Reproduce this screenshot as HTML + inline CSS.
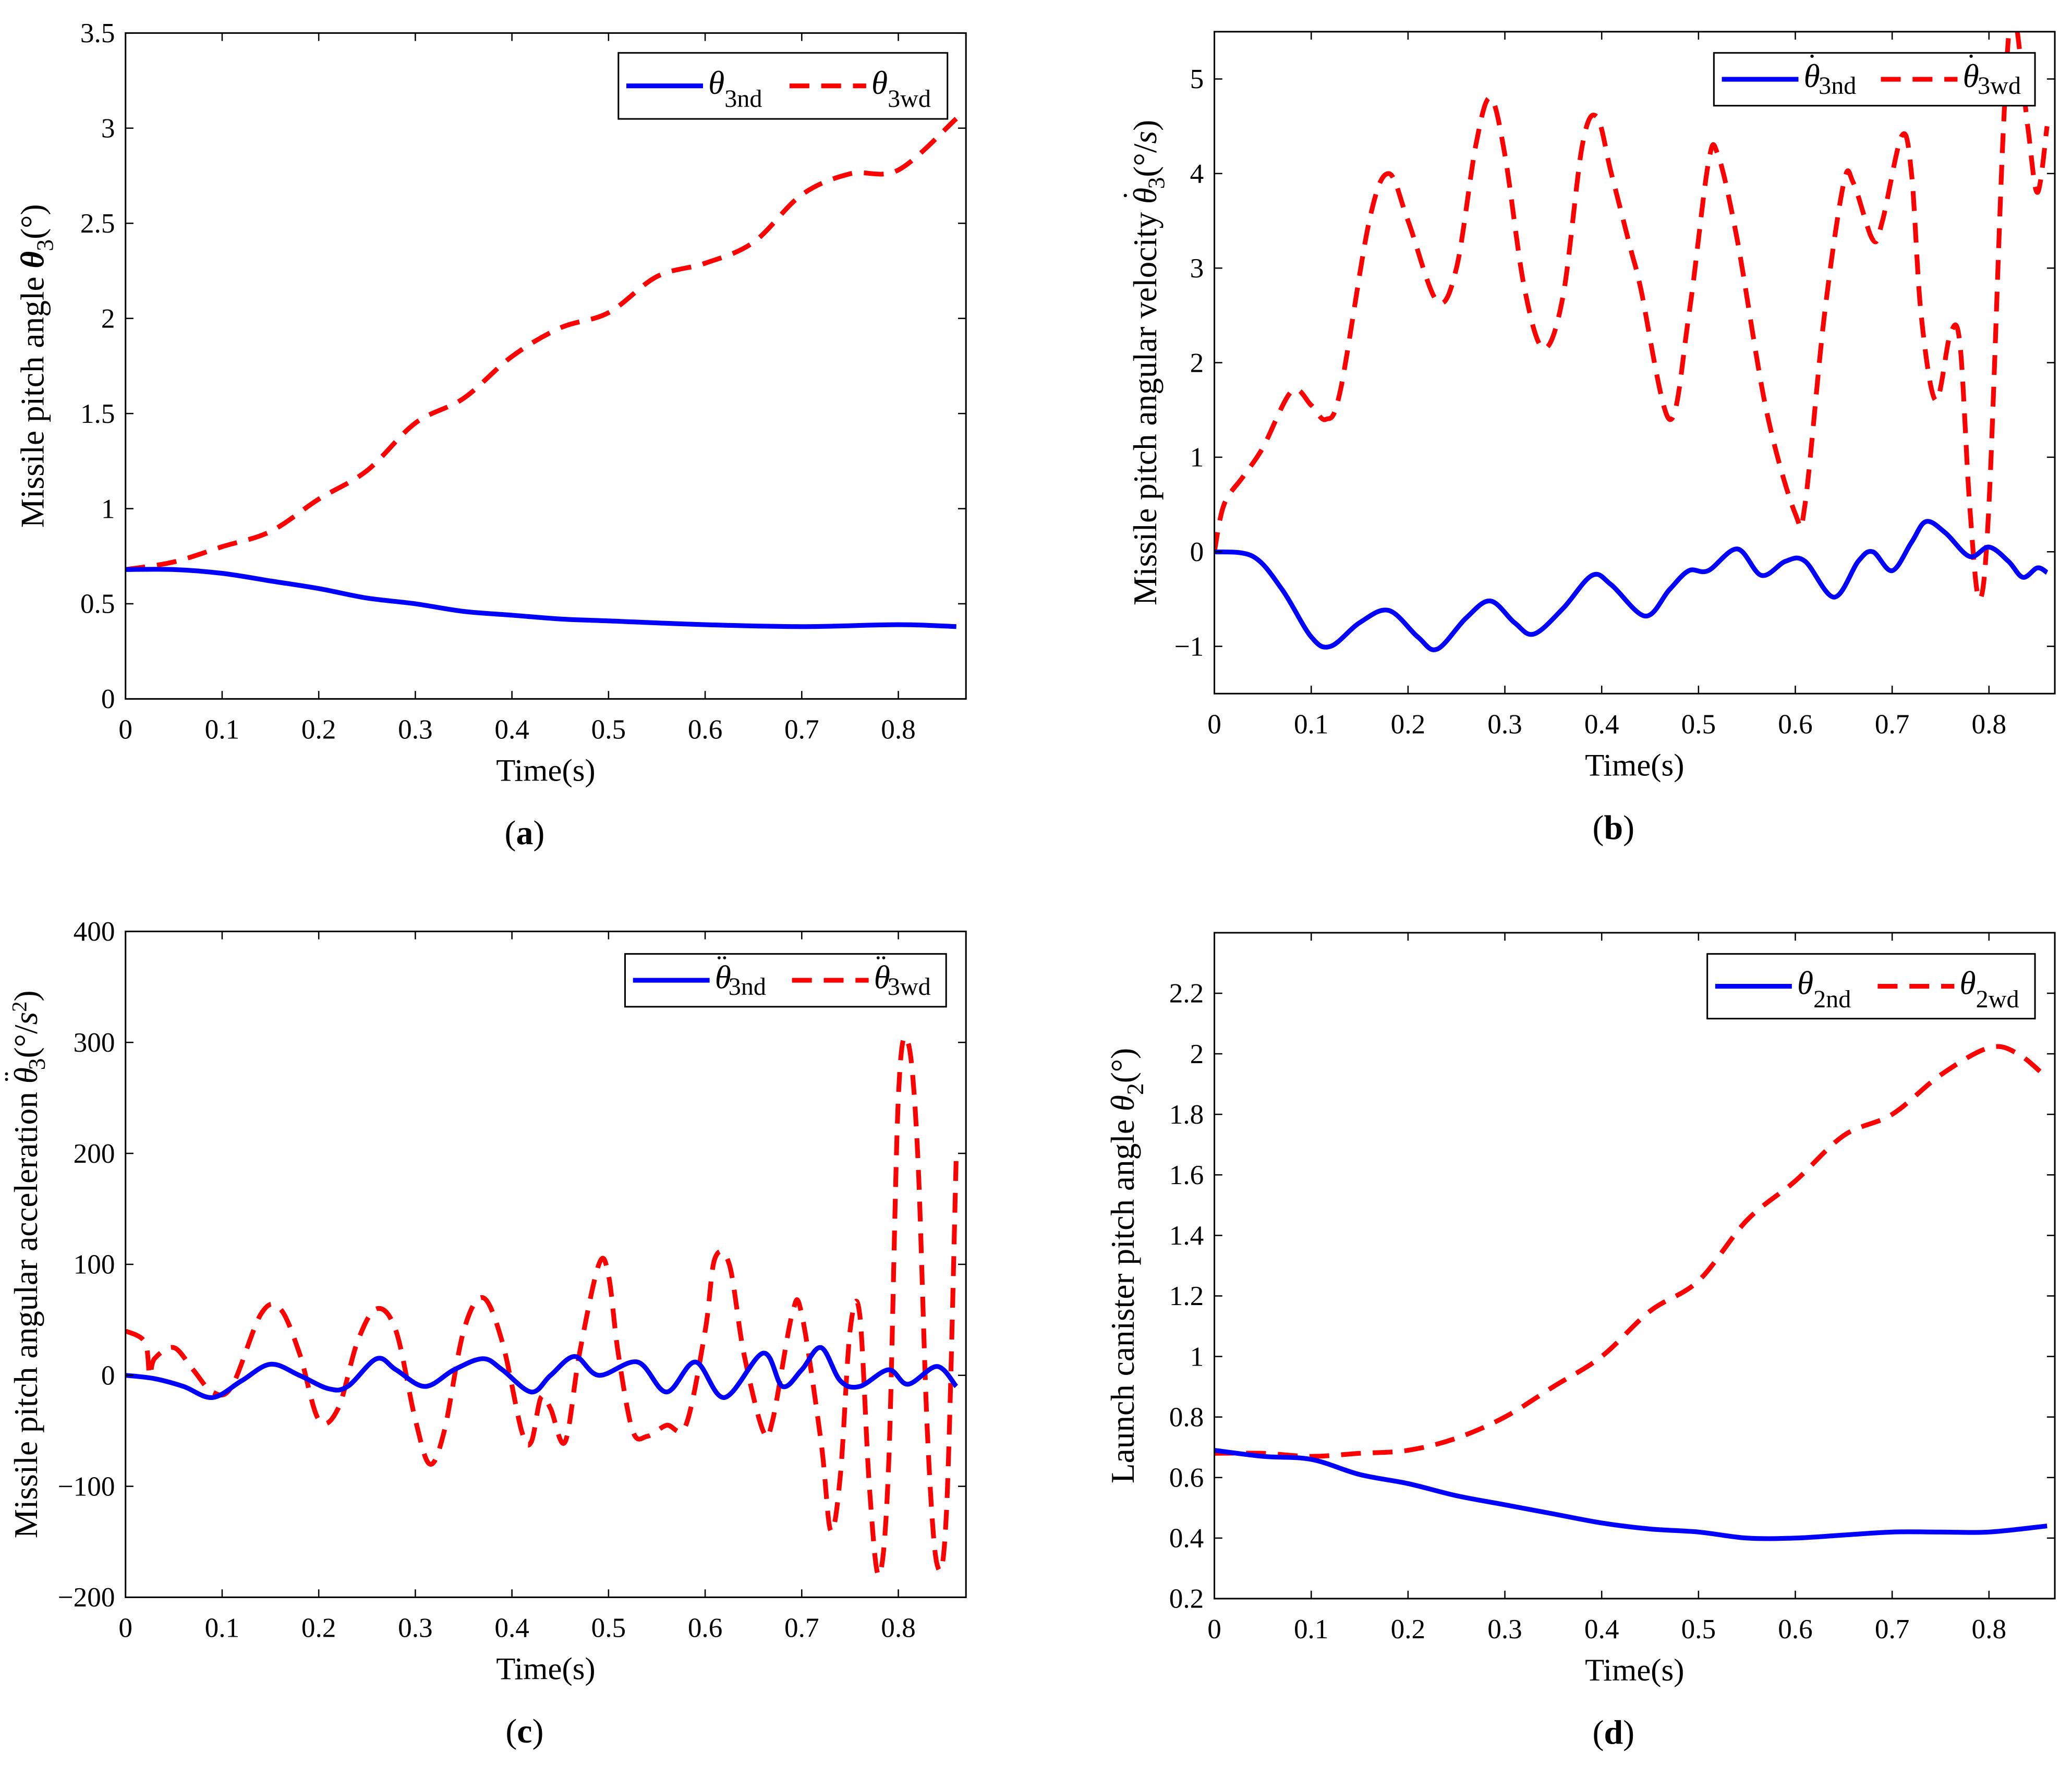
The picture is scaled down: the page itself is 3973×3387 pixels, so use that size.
<!DOCTYPE html>
<html><head><meta charset="utf-8"><style>
html,body{margin:0;padding:0;background:#fff;}
svg{display:block;}
text{font-family:"Liberation Serif",serif;fill:#000;}
</style></head><body>
<svg id="fig" width="3973" height="3387" viewBox="0 0 1568 1336.7" preserveAspectRatio="none" xmlns="http://www.w3.org/2000/svg">
<defs>
<clipPath id="ca"><rect x="95" y="25" width="636" height="504"/></clipPath>
<clipPath id="cb"><rect x="919" y="24" width="636" height="501"/></clipPath>
<clipPath id="cc"><rect x="95" y="705" width="636" height="504"/></clipPath>
<clipPath id="cd"><rect x="919" y="706" width="636" height="504"/></clipPath>
</defs>
</svg>
<script>
// ---- data ----
const timeA=[0,0.05,0.1,0.15,0.2,0.25,0.3,0.35,0.4,0.45,0.5,0.55,0.6,0.65,0.7,0.75,0.8,0.86];
const redA=[0.68,0.72,0.8,0.88,1.05,1.2,1.45,1.58,1.8,1.95,2.03,2.22,2.29,2.4,2.65,2.76,2.78,3.05];
const timeA2=[0,0.05,0.1,0.15,0.2,0.25,0.3,0.35,0.4,0.45,0.5,0.6,0.7,0.8,0.86];
const blueA=[0.68,0.68,0.66,0.62,0.58,0.53,0.5,0.46,0.44,0.42,0.41,0.39,0.38,0.39,0.38];

const timeBr=[0,0.01,0.03,0.05,0.08,0.1,0.115,0.13,0.16,0.18,0.2,0.23,0.25,0.27,0.285,0.3,0.32,0.34,0.36,0.38,0.395,0.41,0.43,0.44,0.47,0.49,0.51,0.52,0.54,0.57,0.6,0.61,0.63,0.65,0.66,0.68,0.69,0.71,0.72,0.73,0.745,0.76,0.77,0.78,0.79,0.8,0.815,0.825,0.84,0.85,0.86];
const redB=[0,0.5,0.8,1.1,1.7,1.55,1.4,1.7,3.5,4.0,3.5,2.65,3.0,4.3,4.8,4.2,2.8,2.15,2.7,4.3,4.6,4.0,3.2,2.8,1.4,2.5,4.1,4.2,3.3,1.5,0.4,0.5,2.5,3.9,3.9,3.3,3.5,4.4,4.0,2.5,1.6,2.3,2.2,0.5,-0.5,0.5,4.5,5.7,4.5,3.8,4.5];
const timeBb=[0,0.04,0.07,0.1,0.12,0.15,0.18,0.21,0.23,0.26,0.285,0.31,0.33,0.36,0.39,0.41,0.445,0.47,0.49,0.51,0.54,0.565,0.59,0.61,0.64,0.665,0.68,0.7,0.72,0.735,0.755,0.78,0.8,0.82,0.835,0.85,0.86];
const blueB=[0,-0.05,-0.4,-0.9,-1.0,-0.75,-0.62,-0.9,-1.03,-0.7,-0.52,-0.75,-0.87,-0.6,-0.25,-0.35,-0.68,-0.4,-0.2,-0.2,0.03,-0.25,-0.1,-0.1,-0.48,-0.1,0,-0.2,0.1,0.32,0.2,-0.05,0.05,-0.1,-0.27,-0.17,-0.22];

const timeCr=[0,0.02,0.025,0.03,0.05,0.07,0.09,0.11,0.14,0.16,0.18,0.2,0.22,0.24,0.26,0.28,0.3,0.315,0.33,0.35,0.37,0.39,0.41,0.42,0.43,0.44,0.455,0.47,0.49,0.5,0.51,0.525,0.54,0.56,0.58,0.6,0.61,0.625,0.64,0.66,0.67,0.69,0.7,0.72,0.73,0.74,0.75,0.76,0.77,0.78,0.79,0.8,0.81,0.82,0.83,0.84,0.85,0.86];
const redC=[40,30,0,15,25,5,-15,-10,55,60,20,-40,-30,30,60,40,-40,-80,-50,40,70,30,-50,-60,-20,-30,-60,20,100,90,20,-50,-55,-45,-45,40,105,100,20,-50,-40,55,55,-60,-140,-90,40,55,-100,-180,-80,250,300,200,-50,-170,-120,200];
const timeCb=[0,0.03,0.06,0.09,0.12,0.15,0.18,0.21,0.23,0.26,0.28,0.31,0.34,0.37,0.39,0.42,0.44,0.465,0.49,0.53,0.56,0.59,0.62,0.66,0.68,0.7,0.72,0.74,0.76,0.79,0.81,0.84,0.86];
const blueC=[0,-3,-10,-20,-5,10,0,-12,-10,15,5,-10,5,15,5,-15,0,17,0,12,-15,12,-20,20,-10,5,25,-5,-10,5,-8,8,-10];

const timeD=[0,0.05,0.1,0.15,0.2,0.25,0.3,0.35,0.4,0.45,0.5,0.55,0.6,0.65,0.7,0.75,0.8,0.83,0.86];
const redD=[0.68,0.68,0.67,0.68,0.69,0.73,0.8,0.9,1.0,1.15,1.25,1.45,1.58,1.73,1.8,1.93,2.02,2.0,1.92];
const timeD2=[0,0.05,0.1,0.15,0.2,0.25,0.3,0.35,0.4,0.45,0.5,0.55,0.6,0.65,0.7,0.75,0.8,0.86];
const blueD=[0.69,0.67,0.66,0.61,0.58,0.54,0.51,0.48,0.45,0.43,0.42,0.40,0.40,0.41,0.42,0.42,0.42,0.44];

const xTicks=[0,0.1,0.2,0.3,0.4,0.5,0.6,0.7,0.8];
const xTickLabels=["0","0.1","0.2","0.3","0.4","0.5","0.6","0.7","0.8"];
const yTicksA=[0,0.5,1,1.5,2,2.5,3,3.5];
const yTickLabelsA=["0","0.5","1","1.5","2","2.5","3","3.5"];
const yTicksB=[-1,0,1,2,3,4,5];
const yTickLabelsB=["\u22121","0","1","2","3","4","5"];
const yTicksC=[-200,-100,0,100,200,300,400];
const yTickLabelsC=["\u2212200","\u2212100","0","100","200","300","400"];
const yTicksD=[0.2,0.4,0.6,0.8,1,1.2,1.4,1.6,1.8,2,2.2];
const yTickLabelsD=["0.2","0.4","0.6","0.8","1","1.2","1.4","1.6","1.8","2","2.2"];

const NS="http://www.w3.org/2000/svg";
const svg=document.getElementById('fig');
function mk(tag,attrs,parent){const e=document.createElementNS(NS,tag);for(const k in attrs)e.setAttribute(k,attrs[k]);(parent||svg).appendChild(e);return e;}
function smooth(pts){let d="M"+pts[0][0]+","+pts[0][1];for(let i=0;i<pts.length-1;i++){const p0=pts[Math.max(0,i-1)],p1=pts[i],p2=pts[i+1],p3=pts[Math.min(pts.length-1,i+2)];const c1=[p1[0]+(p2[0]-p0[0])/6,p1[1]+(p2[1]-p0[1])/6],c2=[p2[0]-(p3[0]-p1[0])/6,p2[1]-(p3[1]-p1[1])/6];d+=" C"+c1[0]+","+c1[1]+" "+c2[0]+","+c2[1]+" "+p2[0]+","+p2[1];}return d;}

function panel(cfg){
  const g=mk('g',{});
  
  
  const {x0,y0,w,h,xmax,ymin,ymax}=cfg;
  const sx=v=>x0+v/xmax*w, sy=v=>y0+h-(v-ymin)/(ymax-ymin)*h;
  const bg=mk('rect',{x:x0,y:y0,width:w,height:h,fill:'#fff'},g);
  
  
  const sg=mk('g',{'clip-path':'url(#'+cfg.clip+')'},g);
  const rp=mk('path',{d:smooth(cfg.rt.map((t,i)=>[sx(t),sy(cfg.rv[i])])),fill:'none',stroke:'#ff0000','stroke-width':3.6,'stroke-dasharray':'15,9'},sg);
  
  
  const bp=mk('path',{d:smooth(cfg.bt.map((t,i)=>[sx(t),sy(cfg.bv[i])])),fill:'none',stroke:'#0000ff','stroke-width':3.6},sg);
  
  
  const fr=mk('rect',{x:x0,y:y0,width:w,height:h,fill:'none',stroke:'#000','stroke-width':1.2},g);
  
  
  xTicks.forEach((t,i)=>{const x=sx(t);
    mk('line',{x1:x,x2:x,y1:y0+h,y2:y0+h-6,stroke:'#000','stroke-width':1},g);
    mk('line',{x1:x,x2:x,y1:y0,y2:y0+6,stroke:'#000','stroke-width':1},g);
    const tl=mk('text',{x:x,y:y0+h+30,'text-anchor':'middle','font-size':21},g);tl.textContent=xTickLabels[i];
    
    
  });
  cfg.yt.forEach((t,i)=>{const y=sy(t);
    mk('line',{x1:x0,x2:x0+6,y1:y,y2:y,stroke:'#000','stroke-width':1},g);
    mk('line',{x1:x0+w,x2:x0+w-6,y1:y,y2:y,stroke:'#000','stroke-width':1},g);
    const tl=mk('text',{x:x0-8,y:y+7,'text-anchor':'end','font-size':21},g);tl.textContent=cfg.yl[i];
    
    
  });
  const xt=mk('text',{x:x0+w/2,y:y0+h+62,'text-anchor':'middle','font-size':24},g);xt.textContent='Time(s)';
  
  
  const yt=mk('text',{x:0,y:0,'text-anchor':'middle','font-size':25,transform:'translate('+cfg.ylx+','+(y0+h/2)+') rotate(-90)'},g);
  yt.innerHTML=cfg.ytitle;
  
  
  const cap=mk('text',{x:x0+w/2-16,y:y0+h+110,'text-anchor':'middle','font-size':26},g);
  cap.innerHTML='(<tspan font-weight="bold">'+cfg.letter+'</tspan>)';
  
  
  const L=cfg.leg;
  const lg=mk('g',{},g);
  
  
  mk('rect',{x:L[0],y:L[1],width:L[2],height:L[3],fill:'#fff',stroke:'#000','stroke-width':1.2},lg);
  const cy=L[1]+L[3]/2;
  mk('line',{x1:L[0]+6,x2:L[0]+64,y1:cy,y2:cy,stroke:'#0000ff','stroke-width':3.6},lg);
  const t1=mk('text',{x:L[0]+68,y:cy+6,'font-size':25},lg);t1.innerHTML=cfg.l1;
  
  
  const mid=L[0]+L[2]*0.52;
  mk('line',{x1:mid,x2:mid+58,y1:cy,y2:cy,stroke:'#ff0000','stroke-width':3.6,'stroke-dasharray':'15,9'},lg);
  const t2=mk('text',{x:mid+62,y:cy+6,'font-size':25},lg);t2.innerHTML=cfg.l2;
  
  
}
const th='<tspan font-style="italic">θ</tspan>';
const dot1='<tspan dx="-10" dy="-9" font-size="24">˙</tspan><tspan dy="9" font-size="4"> </tspan>';
const dot2='<tspan dx="-11" dy="-9" font-size="24">¨</tspan><tspan dy="9" font-size="4"> </tspan>';
const sub=(s,dy)=>'<tspan font-size="19" dy="'+dy+'">'+s+'</tspan>';
panel({name:'panel-a',clip:'ca',x0:95,y0:25,w:636,h:504,xmax:0.87,ymin:0,ymax:3.5,rt:timeA,rv:redA,bt:timeA2,bv:blueA,yt:yTicksA,yl:yTickLabelsA,ylx:33,letter:'a',
 ytitle:'Missile pitch angle <tspan font-style="italic" font-weight="bold">θ</tspan><tspan font-size="18" dy="7">3</tspan><tspan dy="-7">(°)</tspan>',
 leg:[468,40,249,50],l1:th+sub('3nd',10),l2:th+sub('3wd',10)});
panel({name:'panel-b',clip:'cb',x0:919,y0:24,w:636,h:501,xmax:0.868,ymin:-1.5,ymax:5.5,rt:timeBr,rv:redB,bt:timeBb,bv:blueB,yt:yTicksB,yl:yTickLabelsB,ylx:875,letter:'b',
 ytitle:'Missile pitch angular velocity '+th+dot1+'<tspan font-size="18" dy="6">3</tspan><tspan dy="-6">(°/</tspan><tspan font-style="italic">s</tspan>)',
 leg:[1297,40,243,40],l1:th+dot1+sub('3nd',5),l2:th+dot1+sub('3wd',5)});
panel({name:'panel-c',clip:'cc',x0:95,y0:705,w:636,h:504,xmax:0.87,ymin:-200,ymax:400,rt:timeCr,rv:redC,bt:timeCb,bv:blueC,yt:yTicksC,yl:yTickLabelsC,ylx:28,letter:'c',
 ytitle:'Missile pitch angular acceleration '+th+dot2+'<tspan font-size="18" dy="6">3</tspan><tspan dy="-6">(°/</tspan><tspan font-style="italic">s</tspan><tspan font-size="16" dy="-8">2</tspan><tspan dy="8">)</tspan>',
 leg:[473,722,243,40],l1:th+dot2+sub('3nd',5),l2:th+dot2+sub('3wd',5)});
panel({name:'panel-d',clip:'cd',x0:919,y0:706,w:636,h:504,xmax:0.868,ymin:0.2,ymax:2.4,rt:timeD,rv:redD,bt:timeD2,bv:blueD,yt:yTicksD,yl:yTickLabelsD,ylx:858,letter:'d',
 ytitle:'Launch canister pitch angle '+th+'<tspan font-size="18" dy="7">2</tspan><tspan dy="-7">(°)</tspan>',
 leg:[1292,722,248,49],l1:th+sub('2nd',10),l2:th+sub('2wd',10)});
</script>
</body></html>
